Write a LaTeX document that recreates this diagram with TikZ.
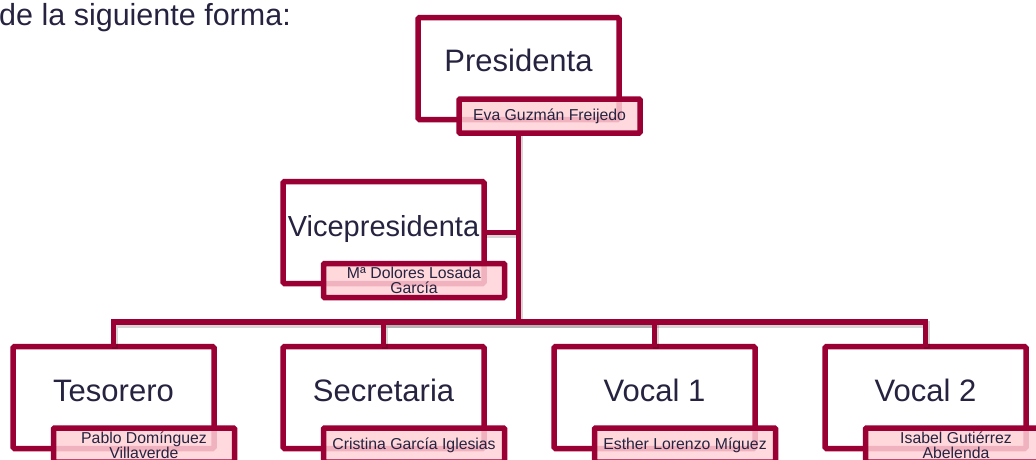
\documentclass[tikz,border=0pt]{standalone}
\usepackage{fontspec}
\setmainfont{Liberation Sans}
\usetikzlibrary{calc}
\definecolor{berry}{RGB}{155,0,52}
\definecolor{pinkfill}{RGB}{255,210,215}
\definecolor{navy}{RGB}{38,35,64}
\tikzset{
  rolebox/.style={draw=berry, line width=5.5pt, fill=white, rounded corners=1.5pt,
    minimum width=201pt, minimum height=102pt, inner sep=0pt, outer sep=0pt},
  namebox/.style={draw=berry, line width=5.5pt, fill=pinkfill, fill opacity=0.85,
    text opacity=1, rounded corners=1pt, minimum width=181pt, minimum height=34pt,
    inner sep=0pt, outer sep=0pt, text=navy, font=\fontsize{15.8}{15.5}\selectfont, align=center},
  roletext/.style={text=navy, font=\fontsize{31}{31}\selectfont, inner sep=0pt,
    text height=22.5pt, text depth=0pt},
  conn/.style={draw=berry, line width=5.5pt},
  connshadow/.style={draw=black, draw opacity=0.16, line width=6.5pt,
    transform canvas={shift={(1.5pt,-2.5pt)}}},
}
\begin{document}
\begin{tikzpicture}[x=1pt, y=-1pt]
\useasboundingbox (0,0) rectangle (1036,459);

\node[anchor=base west, inner sep=0pt, text=navy, font=\fontsize{30.5}{30.5}\selectfont] (title) at (-1,25) {de la siguiente forma:};

% role boxes
\node[rolebox] (pres) at (518.5,68.5) {};
\node[rolebox] (vice) at (383.5,232.5) {};
\node[rolebox] (tes) at (113.5,397.5) {};
\node[rolebox] (sec) at (383.5,397.5) {};
\node[rolebox] (voc1) at (654.5,397.5) {};
\node[rolebox] (voc2) at (925.5,397.5) {};

% role texts
\node[roletext] (presT) at ($(pres.center)+(0,-8)$) {Presidenta};
\node[roletext, font=\fontsize{29}{29}\selectfont] (viceT) at ($(vice.center)+(0,-7.5)$) {Vicepresidenta};
\node[roletext] (tesT) at ($(tes.center)+(0,-7.5)$) {Tesorero};
\node[roletext] (secT) at ($(sec.center)+(0,-7.5)$) {Secretaria};
\node[roletext] (voc1T) at ($(voc1.center)+(0,-7.5)$) {Vocal 1};
\node[roletext] (voc2T) at ($(voc2.center)+(0,-7.5)$) {Vocal 2};

% name boxes
\node[namebox] (presN) at ($(pres.center)+(31,47.5)$) {Eva Guzmán Freijedo};
\node[namebox] (viceN) at ($(vice.center)+(30.5,48)$) {Mª Dolores Losada\\García};
\node[namebox] (tesN) at ($(tes.center)+(30.5,47.5)$) {Pablo Domínguez\\Villaverde};
\node[namebox] (secN) at ($(sec.center)+(30.5,47.5)$) {Cristina García Iglesias};
\node[namebox] (voc1N) at ($(voc1.center)+(30.5,47.5)$) {Esther Lorenzo Míguez};
\node[namebox] (voc2N) at ($(voc2.center)+(30.5,47.5)$) {Isabel Gutiérrez\\Abelenda};

% connectors
\coordinate (bus) at (518.5,322);
\coordinate (trunktop) at (pres.center |- presN.south);
\foreach \c in {tes,sec,voc1,voc2}{
  \draw[connshadow] (bus) -| (\c.north);
}
\draw[connshadow] (trunktop) -- (bus);
\draw[connshadow] (vice.east) -- (vice.east -| bus);
\foreach \c in {tes,sec,voc1,voc2}{
  \draw[conn] (bus) -| (\c.north);
}
\draw[conn] (trunktop) -- (bus);
\draw[conn] (vice.east) -- (vice.east -| bus);
\end{tikzpicture}
\end{document}
